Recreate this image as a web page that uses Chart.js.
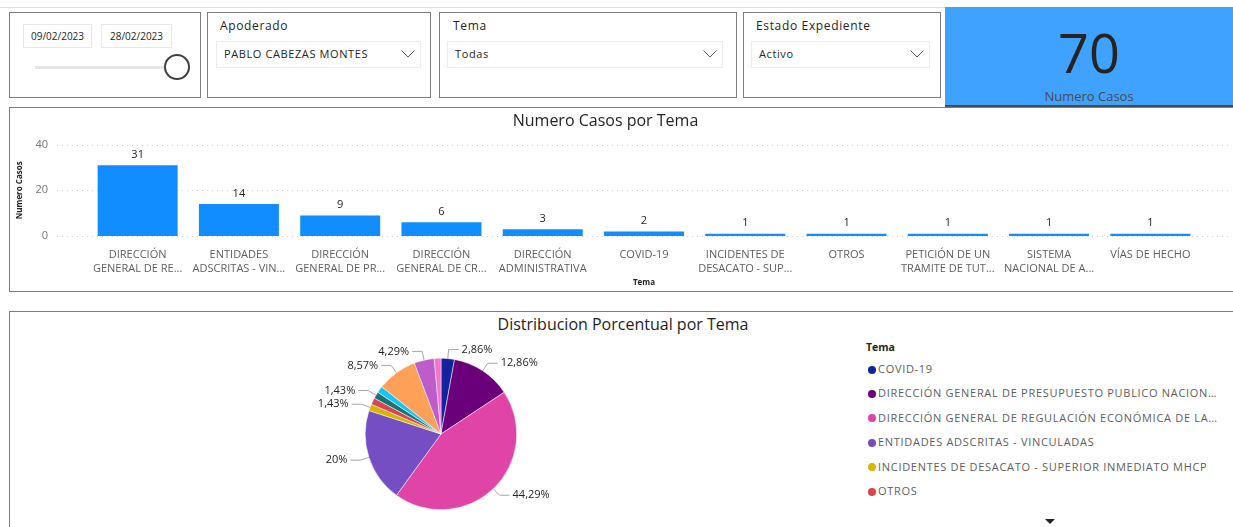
<!DOCTYPE html>
<html>
<head>
    <title>Numero Casos por Tema</title>
    <script src="https://cdn.jsdelivr.net/npm/chart.js"></script>
    <style>
        body {
            margin: 0;
            width: 1233px;
            height: 527px;
            overflow: hidden;
            background: white;
            font-family: "Segoe UI", "Open Sans", sans-serif;
            color: #252423;
            position: relative;
        }
        .abs { position: absolute; }
        .hline { left: 0; top: 7px; width: 945px; height: 1px; background: #e1e1e1; }
        .box { border: 1.5px solid #7d7d7d; box-sizing: border-box; background: white; }
        .datebox {
            border: 1px solid #e8e8e8; box-sizing: border-box;
            font-size: 10px; line-height: 22px; text-align: center; color: #252423;
        }
        .slabel { font-size: 12px; color: #252423; letter-spacing: 0.65px; }
        .dropdown {
            border: 1px solid #ececec; box-sizing: border-box;
            font-size: 11px; line-height: 24px; padding-left: 7px; color: #252423;
            letter-spacing: 0.6px;
        }
        .dropdown svg { position: absolute; right: 5px; top: 8px; }
        .card { left: 945px; top: 7px; width: 288px; height: 100px; background: #40A2FF; border-bottom: 2px solid #4b4b4b; box-sizing: border-box; }
        .title { font-size: 16px; text-align: center; width: 400px; left: 423px; }
        .legend-title { left: 866px; top: 340px; font-size: 10.5px; font-weight: bold; color: #252423; }
        .legend-item {
            left: 868px; width: 352px; height: 16px; font-size: 11px; line-height: 16px;
            color: #605E5C; white-space: nowrap; overflow: hidden; text-overflow: ellipsis;
            letter-spacing: 0.7px;
        }
        .legend-item span.dot {
            display: inline-block; width: 8px; height: 8px; border-radius: 50%;
            margin-right: 2px; vertical-align: -0.5px;
        }
    </style>
</head>
<body>
    <div class="abs hline"></div>

    <!-- fecha -->
    <div class="abs box" style="left:9px;top:12px;width:192px;height:86px"></div>
    <div class="abs datebox" style="left:23px;top:24px;width:69px;height:24px">09/02/2023</div>
    <div class="abs datebox" style="left:101px;top:24px;width:71px;height:24px">28/02/2023</div>
    <div class="abs" style="left:35px;top:66px;width:132px;height:3px;background:#e6e6e6"></div>
    <div class="abs" style="left:164px;top:54px;width:26px;height:26px;border:2px solid #404040;border-radius:50%;box-sizing:border-box;background:white"></div>

    <!-- apoderado -->
    <div class="abs box" style="left:207px;top:12px;width:224px;height:86px"></div>
    <div class="abs slabel" style="left:220px;top:17px">Apoderado</div>
    <div class="abs dropdown" style="left:216px;top:41px;width:205px;height:27px">PABLO CABEZAS MONTES
        <svg width="14" height="8"><polyline points="0.5,0.5 7,7 13.5,0.5" fill="none" stroke="#605E5C"/></svg></div>

    <!-- tema -->
    <div class="abs box" style="left:439px;top:12px;width:298px;height:86px"></div>
    <div class="abs slabel" style="left:453px;top:17px">Tema</div>
    <div class="abs dropdown" style="left:447px;top:41px;width:276px;height:27px">Todas
        <svg width="14" height="8"><polyline points="0.5,0.5 7,7 13.5,0.5" fill="none" stroke="#605E5C"/></svg></div>

    <!-- estado -->
    <div class="abs box" style="left:743px;top:12px;width:198px;height:86px"></div>
    <div class="abs slabel" style="left:756px;top:17px">Estado Expediente</div>
    <div class="abs dropdown" style="left:751px;top:41px;width:179px;height:27px">Activo
        <svg width="14" height="8"><polyline points="0.5,0.5 7,7 13.5,0.5" fill="none" stroke="#605E5C"/></svg></div>

    <!-- tarjeta -->
    <div class="abs card">
        <div class="abs" id="cardValue" style="left:0;width:288px;top:13px;text-align:center;font-size:54px;line-height:64px;color:#252423"></div>
        <div class="abs" style="left:0;width:288px;top:80px;text-align:center;font-size:13px;color:#4a4a4a">Numero Casos</div>
    </div>

    <!-- barras -->
    <div class="abs box" style="left:9px;top:107px;width:1240px;height:185px"></div>
    <canvas id="barChart" class="abs" style="left:10px;top:99px" width="1223" height="191"></canvas>

    <!-- pie -->
    <div class="abs box" style="left:9px;top:311px;width:1240px;height:230px"></div>
    <div class="abs title" style="top:313px">Distribucion Porcentual por Tema</div>
    <canvas id="pieChart" class="abs" style="left:300px;top:340px" width="282" height="188"></canvas>
    <div class="abs legend-title">Tema</div>
    <div id="legend"></div>
    <svg class="abs" style="left:1045px;top:519px" width="10" height="6"><polygon points="0,0 10,0 5,5" fill="#252423"/></svg>

    <script>
        // barras: categorias como se ven en el eje
        const barLabels = [
            ["DIRECCIÓN", "GENERAL DE RE..."],
            ["ENTIDADES", "ADSCRITAS - VIN..."],
            ["DIRECCIÓN", "GENERAL DE PR..."],
            ["DIRECCIÓN", "GENERAL DE CR..."],
            ["DIRECCIÓN", "ADMINISTRATIVA"],
            ["COVID-19"],
            ["INCIDENTES DE", "DESACATO - SUP..."],
            ["OTROS"],
            ["PETICIÓN DE UN", "TRAMITE DE TUT..."],
            ["SISTEMA", "NACIONAL DE A..."],
            ["VÍAS DE HECHO"]
        ];
        const barValues = [31, 14, 9, 6, 3, 2, 1, 1, 1, 1, 1];
        const yTicks = [0, 20, 40];

        // pie
        const pieLabels = [
            "COVID-19",
            "DIRECCIÓN GENERAL DE PRESUPUESTO PUBLICO NACIONAL",
            "DIRECCIÓN GENERAL DE REGULACIÓN ECONÓMICA DE LA SEGURIDAD SOCIAL",
            "ENTIDADES ADSCRITAS - VINCULADAS",
            "INCIDENTES DE DESACATO - SUPERIOR INMEDIATO MHCP",
            "OTROS",
            "PETICIÓN DE UN TRAMITE DE TUTELA",
            "SISTEMA NACIONAL DE ATENCIÓN",
            "DIRECCIÓN GENERAL DE CRÉDITO PÚBLICO",
            "DIRECCIÓN ADMINISTRATIVA",
            "VÍAS DE HECHO"
        ];
        const pieValues = [2, 9, 31, 14, 1, 1, 1, 1, 6, 3, 1];
        const pieColors = ["#12239E", "#6B007B", "#E044A7", "#744EC2", "#D9B300", "#D64550",
                           "#197278", "#15C6F4", "#FFA058", "#BE5DC9", "#F472D0"];
        const pieShowLabel = [true, true, true, true, true, false, true, false, true, true, false];
        const legendVisible = 6;

        Chart.defaults.font.family = '"Segoe UI", "Open Sans", sans-serif';
        Chart.defaults.color = "#605E5C";

        const total = barValues.reduce((a, b) => a + b, 0);
        document.getElementById("cardValue").innerText = total;

        // lineas punteadas de la cuadricula, a todo lo ancho
        const dottedGrid = {
            id: "dottedGrid",
            beforeDatasetsDraw(chart) {
                const ctx = chart.ctx;
                const y = chart.scales.y;
                ctx.save();
                ctx.strokeStyle = "#cfcfcf";
                ctx.lineWidth = 1;
                ctx.setLineDash([1, 4]);
                yTicks.forEach(v => {
                    const py = Math.round(y.getPixelForValue(v)) + 0.5;
                    ctx.beginPath();
                    ctx.moveTo(47, py);
                    ctx.lineTo(chart.width - 2, py);
                    ctx.stroke();
                });
                ctx.restore();
            }
        };

        const barValueLabels = {
            id: "barValueLabels",
            afterDatasetsDraw(chart) {
                const ctx = chart.ctx;
                ctx.save();
                ctx.font = '11px "Segoe UI", "Open Sans", sans-serif';
                ctx.fillStyle = "#252423";
                ctx.textAlign = "center";
                ctx.textBaseline = "bottom";
                chart.getDatasetMeta(0).data.forEach((bar, i) => {
                    ctx.fillText(barValues[i], bar.x, bar.y - 5);
                });
                ctx.restore();
            }
        };

        new Chart(document.getElementById("barChart"), {
            type: "bar",
            data: {
                labels: barLabels,
                datasets: [{
                    label: "Numero Casos",
                    data: barValues,
                    backgroundColor: "#118DFF",
                    barPercentage: 0.79,
                    categoryPercentage: 1
                }]
            },
            options: {
                responsive: false,
                animation: false,
                layout: { padding: { left: 0, right: 32, top: 0, bottom: 0 } },
                plugins: {
                    legend: { display: false },
                    tooltip: { enabled: false },
                    title: {
                        display: true,
                        text: "Numero Casos por Tema",
                        color: "#252423",
                        font: { size: 16, weight: "normal" },
                        padding: { top: 3, bottom: 14 }
                    }
                },
                scales: {
                    x: {
                        grid: { display: false, drawTicks: false },
                        border: { display: false },
                        ticks: {
                            maxRotation: 0,
                            autoSkip: false,
                            padding: 11,
                            font: { size: 11, lineHeight: 1.35 },
                            color: "#605E5C"
                        },
                        title: {
                            display: true,
                            text: "Tema",
                            color: "#252423",
                            font: { size: 8, weight: "bold" },
                            padding: { top: 0, bottom: 2 }
                        },
                        afterFit(s) { s.height = 54; }
                    },
                    y: {
                        min: 0,
                        max: 40,
                        grid: { display: false, drawTicks: false },
                        border: { display: false },
                        ticks: {
                            stepSize: 20,
                            padding: 39,
                            font: { size: 11 },
                            color: "#777"
                        },
                        title: {
                            display: true,
                            text: "Numero Casos",
                            color: "#252423",
                            font: { size: 8, weight: "bold" },
                            padding: { top: 5, bottom: 0 }
                        },
                        afterFit(s) { s.width = 77; }
                    }
                }
            },
            plugins: [dottedGrid, barValueLabels]
        });

        function pctText(v) {
            const p = Number((v / total * 100).toFixed(2));
            return String(p).replace(".", ",") + "%";
        }

        const pieOutLabels = {
            id: "pieOutLabels",
            afterDatasetsDraw(chart) {
                const ctx = chart.ctx;
                ctx.save();
                ctx.font = '11px "Segoe UI", "Open Sans", sans-serif';
                ctx.fillStyle = "#252423";
                ctx.strokeStyle = "#a6a6a6";
                ctx.lineWidth = 1;
                ctx.textBaseline = "middle";
                chart.getDatasetMeta(0).data.forEach((arc, i) => {
                    if (!pieShowLabel[i]) return;
                    const mid = (arc.startAngle + arc.endAngle) / 2;
                    const r = arc.outerRadius;
                    const x0 = arc.x + Math.cos(mid) * r;
                    const y0 = arc.y + Math.sin(mid) * r;
                    const x1 = arc.x + Math.cos(mid) * (r + 9);
                    const y1 = arc.y + Math.sin(mid) * (r + 9);
                    const right = Math.cos(mid) >= 0;
                    const x2 = x1 + (right ? 10 : -10);
                    ctx.beginPath();
                    ctx.moveTo(x0, y0);
                    ctx.lineTo(x1, y1);
                    ctx.lineTo(x2, y1);
                    ctx.stroke();
                    ctx.textAlign = right ? "left" : "right";
                    ctx.fillText(pctText(pieValues[i]), x2 + (right ? 3 : -3), y1);
                });
                ctx.restore();
            }
        };

        new Chart(document.getElementById("pieChart"), {
            type: "pie",
            data: {
                labels: pieLabels,
                datasets: [{
                    data: pieValues,
                    backgroundColor: pieColors,
                    borderColor: "#ffffff",
                    borderWidth: 0.5
                }]
            },
            options: {
                responsive: false,
                animation: false,
                layout: { padding: { top: 18, bottom: 18, left: 0, right: 0 } },
                plugins: {
                    legend: { display: false },
                    tooltip: { enabled: false }
                }
            },
            plugins: [pieOutLabels]
        });

        // leyenda
        const legend = document.getElementById("legend");
        pieLabels.slice(0, legendVisible).forEach((name, i) => {
            const d = document.createElement("div");
            d.className = "abs legend-item";
            d.style.top = (361 + i * 24.4) + "px";
            d.innerHTML = '<span class="dot" style="background:' + pieColors[i] + '"></span>' + name;
            legend.appendChild(d);
        });
    </script>
</body>
</html>
